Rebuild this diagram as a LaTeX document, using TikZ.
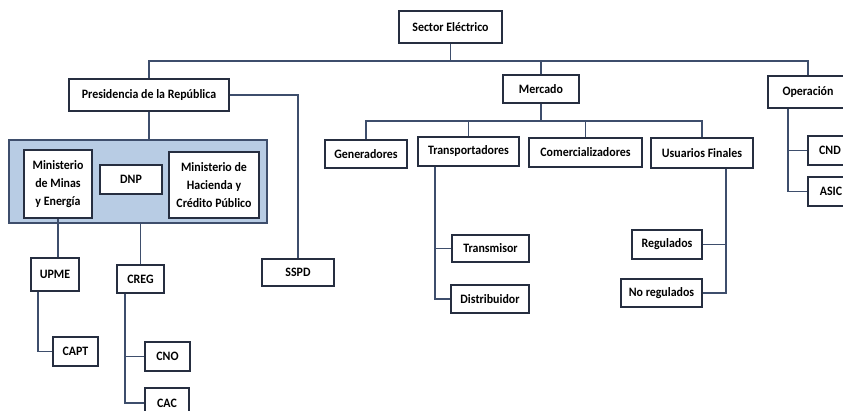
\documentclass[tikz,border=0pt]{standalone}
\usepackage{fontspec}
\setmainfont{Carlito}[FakeStretch=0.93]
\usepackage{xcolor}
\usepackage{tikz}
\usetikzlibrary{positioning}
\definecolor{linea}{RGB}{62,78,108}
\definecolor{borde}{RGB}{38,46,64}
\definecolor{fondo}{RGB}{184,204,228}

\begin{document}
\begin{tikzpicture}[x=1pt, y=-1pt, font=\bfseries\fontsize{12.8}{18}\selectfont]
    \tikzstyle{caja} = [draw=borde, line width=1.2pt, fill=white, inner sep=0pt, align=center, text=black];
    \tikzstyle{grupo} = [draw=linea, line width=1.2pt, fill=fondo, inner sep=0pt];
    \tikzstyle{enlace} = [draw=linea, line width=1.1pt];
    \useasboundingbox (0,0) rectangle (843,411);
    \clip (0,0) rectangle (843,411);

    \node [caja, minimum width=103, minimum height=32] (SE) at (450.5,27) {Sector Eléctrico};

    \node [caja, minimum width=160, minimum height=32] (PR) at (149,95) {Presidencia de la República};
    \node [caja, minimum width=76, minimum height=28] (ME) at (541,89) {Mercado};
    \node [caja, minimum width=80, minimum height=32] (OP) at (808,92) {Operación};

    \node [grupo, minimum width=258, minimum height=83] (GO) at (138,181.5) {};
    \node [caja, minimum width=68, minimum height=68] (MM) at (58,184) {Ministerio\\de Minas\\y Energía};
    \node [caja, minimum width=62, minimum height=29] (DN) at (131,179.5) {DNP};
    \node [caja, minimum width=90, minimum height=66] (MH) at (214,185) {Ministerio de\\Hacienda y\\Crédito Público};

    \node [caja, minimum width=48, minimum height=33] (UP) at (55,274.5) {UPME};
    \node [caja, minimum width=45, minimum height=29] (CA) at (75.5,351.5) {CAPT};
    \node [caja, minimum width=47, minimum height=28] (CR) at (140.5,279) {CREG};
    \node [caja, minimum width=45, minimum height=29] (CN) at (167.5,356.5) {CNO};
    \node [caja, minimum width=44, minimum height=30] (CC) at (167,403) {CAC};
    \node [caja, minimum width=72, minimum height=27] (SP) at (298,272.5) {SSPD};

    \node [caja, minimum width=82, minimum height=28] (GE) at (366,154) {Generadores};
    \node [caja, minimum width=101, minimum height=29] (TR) at (468.5,151.5) {Transportadores};
    \node [caja, minimum width=113, minimum height=29] (CO) at (585.5,152.5) {Comercializadores};
    \node [caja, minimum width=102, minimum height=30] (US) at (702,153) {Usuarios Finales};

    \node [caja, minimum width=77, minimum height=27] (TM) at (490.5,248.5) {Transmisor};
    \node [caja, minimum width=78, minimum height=28] (DI) at (490,299) {Distribuidor};
    \node [caja, minimum width=70, minimum height=29] (RE) at (667,244.5) {Regulados};
    \node [caja, minimum width=81, minimum height=28] (NR) at (661.5,293) {No regulados};

    \node [caja, minimum width=44, minimum height=29] (CD) at (830,150.5) {CND};
    \node [caja, minimum width=46, minimum height=29] (AS) at (831,191.5) {ASIC};

    % barras
    \coordinate (B0) at (450,61);
    \coordinate (B1) at (542,121);
    \coordinate (D0) at ([xshift=-17]UP.south);
    \coordinate (D1) at ([xshift=-15.5]CR.south);
    \coordinate (D2) at ([xshift=-33.5]TR.south);
    \coordinate (D3) at ([xshift=24]US.south);
    \coordinate (D4) at ([xshift=-20]OP.south);

    \draw [enlace] (SE.south) -- (SE.south |- B0);
    \draw [enlace] (PR.north) |- (B0) -| (OP.north);
    \draw [enlace] (ME.north) -- (ME.north |- B0);
    \draw [enlace] (PR.east) -| (SP.north);
    \draw [enlace] (PR.south) -- (PR.south |- GO.north);
    \draw [enlace] (MM.south) -- (MM.south |- UP.north);
    \draw [enlace] (CR.north) -- (CR.north |- GO.south);

    \draw [enlace] (ME.south) -- (ME.south |- B1);
    \draw [enlace] (GE.north) |- (B1) -| (US.north);
    \foreach \n in {TR, CO}
        \draw [enlace] (\n.north) -- (\n.north |- B1);

    \draw [enlace] (D0) |- (CA.west);
    \draw [enlace] (D1) |- (CC.west);
    \draw [enlace] (CN.west) -- (CN.west -| D1);
    \draw [enlace] (D2) |- (DI.west);
    \draw [enlace] (TM.west) -- (TM.west -| D2);
    \draw [enlace] (D3) |- (NR.east);
    \draw [enlace] (RE.east) -- (RE.east -| D3);
    \draw [enlace] (D4) |- (AS.west);
    \draw [enlace] (CD.west) -- (CD.west -| D4);
\end{tikzpicture}
\end{document}
